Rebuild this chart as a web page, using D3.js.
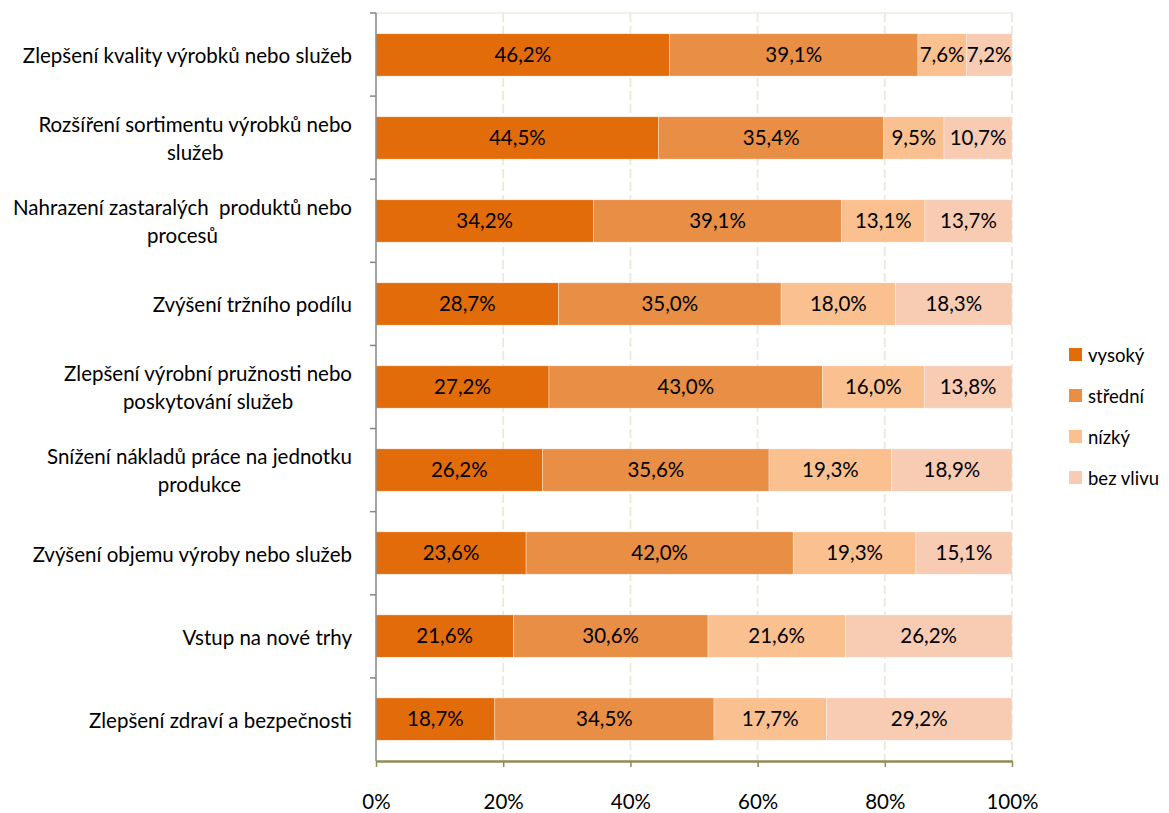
<!DOCTYPE html>
<html>
<head>
<meta charset="utf-8">
<script src="https://cdn.jsdelivr.net/npm/d3@7"></script>
<style>
	body { margin: 0; background: #fff; }
	svg text { font-family: Lato, "Open Sans", sans-serif; fill: #000; white-space: pre; }
</style>
</head>
<body>
<svg id="chart" width="1169" height="813"></svg>
<script>
const categories = [
	['Zlepšení kvality výrobků nebo služeb'],
	['Rozšíření sortimentu výrobků nebo', 'služeb'],
	['Nahrazení zastaralých  produktů nebo', 'procesů'],
	['Zvýšení tržního podílu'],
	['Zlepšení výrobní pružnosti nebo', 'poskytování služeb'],
	['Snížení nákladů práce na jednotku', 'produkce'],
	['Zvýšení objemu výroby nebo služeb'],
	['Vstup na nové trhy'],
	['Zlepšení zdraví a bezpečnosti']
];
const seriesNames = ['vysoký', 'střední', 'nízký', 'bez vlivu'];
const vysoky = [46.2, 44.5, 34.2, 28.7, 27.2, 26.2, 23.6, 21.6, 18.7];
const stredni = [39.1, 35.4, 39.1, 35.0, 43.0, 35.6, 42.0, 30.6, 34.5];
const nizky = [7.6, 9.5, 13.1, 18.0, 16.0, 19.3, 19.3, 21.6, 17.7];
const bezVlivu = [7.2, 10.7, 13.7, 18.3, 13.8, 18.9, 15.1, 26.2, 29.2];
const xTicks = [0, 0.2, 0.4, 0.6, 0.8, 1];
const colors = ['#e36c0a', '#e98e45', '#fac090', '#f8cbb3'];

const series = [vysoky, stredni, nizky, bezVlivu];
const rows = categories.map((c, i) => {
	const row = { index: i };
	seriesNames.forEach((s, j) => { row[s] = series[j][i]; });
	return row;
});

const margin = { left: 376, right: 157, top: 13, bottom: 52 };
const width = 1169, height = 813;
const fontSize = 20.5;
const svg = d3.select('#chart');

const x = d3.scaleLinear().domain([0, 1]).range([margin.left, width - margin.right]);
const y = d3.scaleBand().domain(d3.range(categories.length))
	.range([margin.top, height - margin.bottom]).paddingInner(0.49).paddingOuter(0.25);
const band = d3.scaleBand().domain(d3.range(categories.length))
	.range([margin.top, height - margin.bottom]);

const stack = d3.stack().keys(seriesNames).offset(d3.stackOffsetExpand);
const stacked = stack(rows);

// grid
svg.append('line')
	.attr('x1', x(0)).attr('x2', x(1))
	.attr('y1', margin.top).attr('y2', margin.top)
	.attr('stroke', '#eeece1').attr('stroke-width', 1.5);
svg.append('g').selectAll('line')
	.data(xTicks.slice(1))
	.enter()
	.append('line')
	.attr('x1', (d)=>x(d)).attr('x2', (d)=>x(d))
	.attr('y1', margin.top).attr('y2', height - margin.bottom)
	.attr('stroke', '#ebe8dc').attr('stroke-width', 1.8)
	.attr('stroke-dasharray', '9,4');

// bars
const layers = svg.append('g').selectAll('g')
	.data(stacked)
	.enter()
	.append('g')
	.attr('fill', (d, i)=>colors[i]);

layers.selectAll('rect')
	.data((d)=>d)
	.enter()
	.append('rect')
	.attr('x', (d)=>x(d[0]))
	.attr('y', (d)=>y(d.data.index))
	.attr('width', (d)=>x(d[1]) - x(d[0]))
	.attr('height', y.bandwidth())
	.attr('stroke', '#fff').attr('stroke-width', 0.6).attr('stroke-opacity', 0.6);

// data labels
layers.each(function(layer) {
	d3.select(this).selectAll('text')
		.data(layer)
		.enter()
		.append('text')
		.attr('x', (d)=>(x(d[0]) + x(d[1])) / 2)
		.attr('y', (d)=>y(d.data.index) + y.bandwidth() / 2)
		.attr('dy', '0.36em')
		.attr('text-anchor', 'middle')
		.attr('font-size', fontSize)
		.text((d)=>d3.format('.1f')(d.data[layer.key]).replace('.', ',') + '%');
});

// y axis
svg.append('line')
	.attr('x1', x(0)).attr('x2', x(0))
	.attr('y1', margin.top).attr('y2', height - margin.bottom)
	.attr('stroke', '#868686').attr('stroke-width', 1.5);
svg.append('g').selectAll('line')
	.data(d3.range(categories.length))
	.enter()
	.append('line')
	.attr('x1', x(0) - 6).attr('x2', x(0))
	.attr('y1', (d)=>band(d)).attr('y2', (d)=>band(d))
	.attr('stroke', '#868686').attr('stroke-width', 1.5);

// x axis
const xAxis = svg.append('g')
	.attr('transform', `translate(0,${height - margin.bottom})`)
	.call(d3.axisBottom(x).tickValues(xTicks).tickFormat(d3.format('.0%')).tickSize(6).tickSizeOuter(0));
xAxis.select('.domain').attr('stroke', '#948a54').attr('stroke-width', 2.5);
xAxis.selectAll('.tick line').attr('stroke', '#948a54').attr('stroke-width', 1.5);
xAxis.selectAll('.tick text')
	.attr('font-size', fontSize).attr('y', 41).attr('dy', '0.36em')
	.style('font-family', 'Lato, sans-serif').attr('fill', '#000');

// category labels
const labelRight = 352;
const lineHeight = 28;
categories.forEach((lines, i) => {
	const g = svg.append('g');
	const cy = band(i) + band.bandwidth() / 2;
	const texts = g.selectAll('text')
		.data(lines)
		.enter()
		.append('text')
		.attr('font-size', fontSize)
		.attr('text-anchor', 'middle')
		.attr('dy', '0.36em')
		.attr('y', (d, k)=>cy + 1 + (k - (lines.length - 1) / 2) * lineHeight)
		.text((d)=>d);
	let maxW = 0;
	texts.each(function() { maxW = Math.max(maxW, this.getComputedTextLength()); });
	texts.attr('x', labelRight - maxW / 2);
});

// legend
const legend = svg.append('g').attr('transform', 'translate(1069,355)');
const items = legend.selectAll('g')
	.data(seriesNames)
	.enter()
	.append('g')
	.attr('transform', (d, i)=>`translate(0,${i * 41})`);
items.append('rect')
	.attr('x', 0).attr('y', -7).attr('width', 13).attr('height', 13)
	.attr('fill', (d, i)=>colors[i]);
items.append('text')
	.attr('x', 19).attr('y', 0).attr('dy', '0.36em')
	.attr('font-size', 18.5)
	.text((d)=>d);
</script>
</body>
</html>
